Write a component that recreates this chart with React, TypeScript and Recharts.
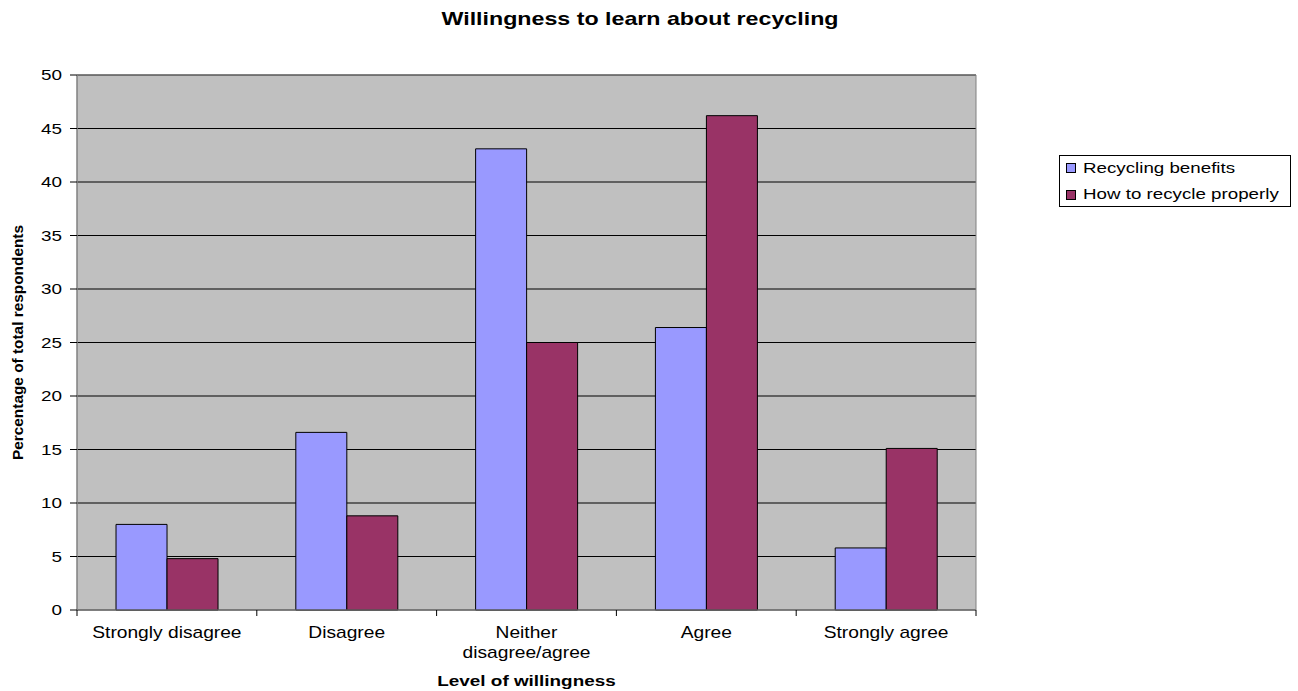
import React from "react";
import { BarChart, Bar, XAxis, YAxis, CartesianGrid, ReferenceArea, Label } from "recharts";

const categories = ["Strongly disagree", "Disagree", "Neither disagree/agree", "Agree", "Strongly agree"];
const recyclingBenefits = [8.0, 16.6, 43.1, 26.4, 5.8];
const howToRecycle = [4.8, 8.8, 25.0, 46.2, 15.1];
const yTicks = [0, 5, 10, 15, 20, 25, 30, 35, 40, 45, 50];
const seriesNames = ["Recycling benefits", "How to recycle properly"];
const seriesColors = ["#9999FF", "#993366"];

const data = categories.map((c, i) => ({
  name: c,
  benefits: recyclingBenefits[i],
  howTo: howToRecycle[i],
}));

const FONT = "'Liberation Sans', Arial, sans-serif";

type STProps = {
  x: number;
  y: number;
  sx: number;
  size: number;
  anchor?: "start" | "middle" | "end";
  bold?: boolean;
  rotate?: number;
  children: React.ReactNode;
};

const StretchText = ({ x, y, sx, size, anchor = "middle", bold = false, rotate = 0, children }: STProps) => (
  <text
    transform={`translate(${x},${y}) rotate(${rotate}) scale(${sx},1)`}
    x={0}
    y={0}
    textAnchor={anchor}
    fontSize={size}
    fontWeight={bold ? "bold" : "normal"}
    fontFamily={FONT}
    fill="#000"
  >
    {children}
  </text>
);

const XTick = (props: any) => {
  const { x, y, payload, index } = props;
  const off = payload.offset || 0;
  const label: string = payload.value;
  const lines = label === "Neither disagree/agree" ? ["Neither", "disagree/agree"] : [label];
  return (
    <g>
      <line x1={x - off} x2={x - off} y1={y} y2={y + 6} stroke="#000" />
      {index === categories.length - 1 && (
        <line x1={x + off} x2={x + off} y1={y} y2={y + 6} stroke="#000" />
      )}
      {lines.map((l, i) => (
        <StretchText key={i} x={x} y={y + 28 + i * 20} sx={1.2} size={16}>
          {l}
        </StretchText>
      ))}
    </g>
  );
};

const YTick = (props: any) => {
  const { x, y, payload } = props;
  return (
    <StretchText x={x} y={y + 5} sx={1.35} size={14} anchor="end">
      {payload.value}
    </StretchText>
  );
};

const XLabel = (props: any) => {
  const { viewBox } = props;
  return (
    <StretchText x={viewBox.x + viewBox.width / 2} y={viewBox.y + viewBox.height - 5} sx={1.26} size={15} bold>
      Level of willingness
    </StretchText>
  );
};

const YLabel = (props: any) => {
  const { viewBox } = props;
  return (
    <StretchText x={viewBox.x + 23} y={viewBox.y + viewBox.height / 2} sx={1.1} size={14} bold rotate={-90}>
      Percentage of total respondents
    </StretchText>
  );
};

export default function App() {
  return (
    <div style={{ position: "absolute", left: 0, top: 0, width: 1298, height: 691, background: "#fff" }}>
      <BarChart
        width={1298}
        height={691}
        data={data}
        margin={{ top: 75, right: 322, left: 0, bottom: 0 }}
        barCategoryGap="21.7%"
        barGap={0}
      >
        <CartesianGrid fill="#C0C0C0" vertical={false} stroke="#000" strokeOpacity={1} />
        <ReferenceArea y1={0} y2={50} fill="none" stroke="#808080" ifOverflow="visible" />
        <XAxis
          dataKey="name"
          height={81}
          tickLine={false}
          tickSize={0}
          tickMargin={0}
          axisLine={{ stroke: "#808080" }}
          tick={<XTick />}
          interval={0}
        >
          <Label content={<XLabel />} />
        </XAxis>
        <YAxis
          width={77}
          domain={[0, 50]}
          ticks={yTicks}
          interval={0}
          tickSize={7}
          tickMargin={8}
          tickLine={{ stroke: "#000" }}
          axisLine={{ stroke: "#808080" }}
          tick={<YTick />}
        >
          <Label content={<YLabel />} />
        </YAxis>
        <Bar dataKey="benefits" name={seriesNames[0]} fill={seriesColors[0]} stroke="#000" strokeWidth={1} isAnimationActive={false} />
        <Bar dataKey="howTo" name={seriesNames[1]} fill={seriesColors[1]} stroke="#000" strokeWidth={1} isAnimationActive={false} />
      </BarChart>
      <svg
        width={1298}
        height={691}
        style={{ position: "absolute", left: 0, top: 0, pointerEvents: "none" }}
      >
        <StretchText x={640} y={25} sx={1.29} size={18} bold>
          Willingness to learn about recycling
        </StretchText>
        <g>
          <rect x={1059.5} y={155.5} width={231} height={51} fill="#fff" stroke="#000" />
          {seriesNames.map((n, i) => (
            <g key={n}>
              <rect x={1066.5} y={163.5 + i * 27} width={9} height={9} fill={seriesColors[i]} stroke="#000" />
              <StretchText x={1083} y={173 + i * 26} sx={1.25} size={15} anchor="start">
                {n}
              </StretchText>
            </g>
          ))}
        </g>
      </svg>
    </div>
  );
}
